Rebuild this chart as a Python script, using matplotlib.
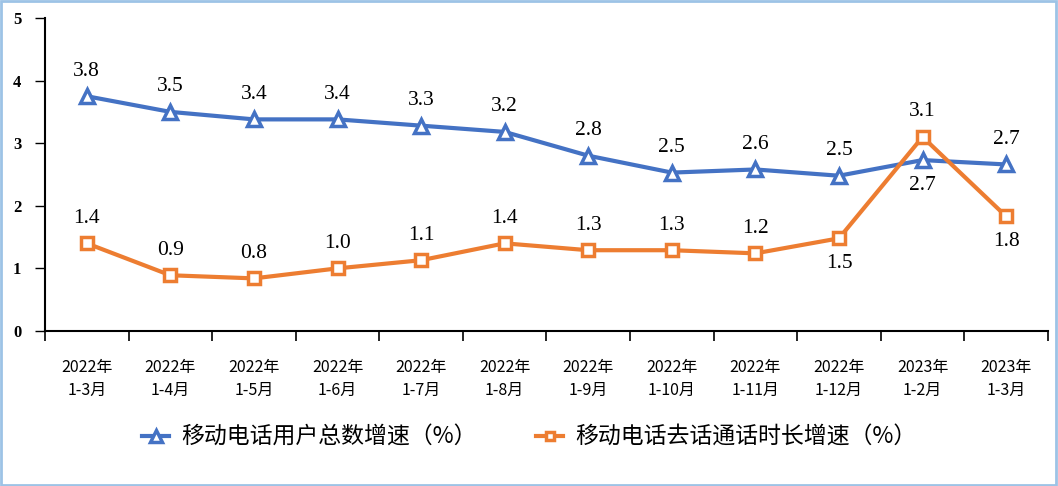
import matplotlib.pyplot as plt
from matplotlib.patches import Rectangle

categories = ['2022年\n1-3月', '2022年\n1-4月', '2022年\n1-5月', '2022年\n1-6月', '2022年\n1-7月',
              '2022年\n1-8月', '2022年\n1-9月', '2022年\n1-10月', '2022年\n1-11月', '2022年\n1-12月',
              '2023年\n1-2月', '2023年\n1-3月']
users = [3.75, 3.5, 3.38, 3.38, 3.28, 3.18, 2.8, 2.53, 2.58, 2.48, 2.73, 2.66]
users_labels = ['3.8', '3.5', '3.4', '3.4', '3.3', '3.2', '2.8', '2.5', '2.6', '2.5', '2.7', '2.7']
calls = [1.4, 0.89, 0.84, 1.0, 1.13, 1.4, 1.29, 1.29, 1.24, 1.48, 3.1, 1.83]
calls_labels = ['1.4', '0.9', '0.8', '1.0', '1.1', '1.4', '1.3', '1.3', '1.2', '1.5', '3.1', '1.8']
users_below = [10]
calls_below = [9, 11]

BLUE = '#4472C4'
ORANGE = '#ED7D31'
CJK = ['Noto Sans CJK SC', 'DejaVu Sans']
SERIF = ['Liberation Serif', 'Noto Sans CJK SC']

fig = plt.figure(figsize=(10.58, 4.86), dpi=100)
ax = fig.add_axes([0.0425, 0.319, 0.948, 0.644])

x = list(range(len(categories)))
ax.plot(x, users, color=BLUE, lw=3, marker='^', markersize=10, markerfacecolor='white',
        markeredgecolor=BLUE, markeredgewidth=2.5, label='移动电话用户总数增速（%）', zorder=3)
ax.plot(x, calls, color=ORANGE, lw=3, marker='s', markersize=8, markerfacecolor='white',
        markeredgecolor=ORANGE, markeredgewidth=2.5, label='移动电话去话通话时长增速（%）', zorder=3)

# data labels
for series, labels, below in [(users, users_labels, users_below), (calls, calls_labels, calls_below)]:
    for i, (v, t) in enumerate(zip(series, labels)):
        dy = -25 if i in below else 25
        ax.annotate(t, (i, v), xytext=(0, dy), textcoords='offset pixels',
                    ha='center', va='center', fontsize=15.5, family=SERIF)

ax.set_xlim(-0.5, len(categories) - 0.5)
ax.set_ylim(0, 5)
ax.set_yticks([0, 1, 2, 3, 4, 5])
ax.set_yticklabels(['0', '1', '2', '3', '4', '5'], family=SERIF, fontsize=12, fontweight='bold')

ax.set_xticks([i - 0.5 for i in range(len(categories) + 1)])
ax.set_xticklabels([])
ax.set_xticks(x, minor=True)
ax.set_xticklabels(categories, minor=True, family=CJK, fontsize=11.5, linespacing=1.45)
ax.tick_params(axis='x', which='minor', length=0, pad=20)
ax.tick_params(axis='x', which='major', length=7, width=1.2, direction='out')
ax.tick_params(axis='y', length=7, width=1, direction='out', pad=10)

for s in ['top', 'right']:
    ax.spines[s].set_visible(False)
ax.spines['left'].set_linewidth(1.5)
ax.spines['bottom'].set_linewidth(1.5)

fig.legend(loc='center', bbox_to_anchor=(0.5, 0.1), ncol=2, frameon=False, markerscale=0.8,
           prop={'family': CJK, 'size': 16.5}, handlelength=1.2, columnspacing=2.6, handletextpad=0.5)

fig.patches.append(Rectangle((0.001, 0.002), 0.997, 0.995, transform=fig.transFigure,
                             fill=False, edgecolor='#9DC3E6', lw=2))

fig.savefig('out.png', dpi=100)
